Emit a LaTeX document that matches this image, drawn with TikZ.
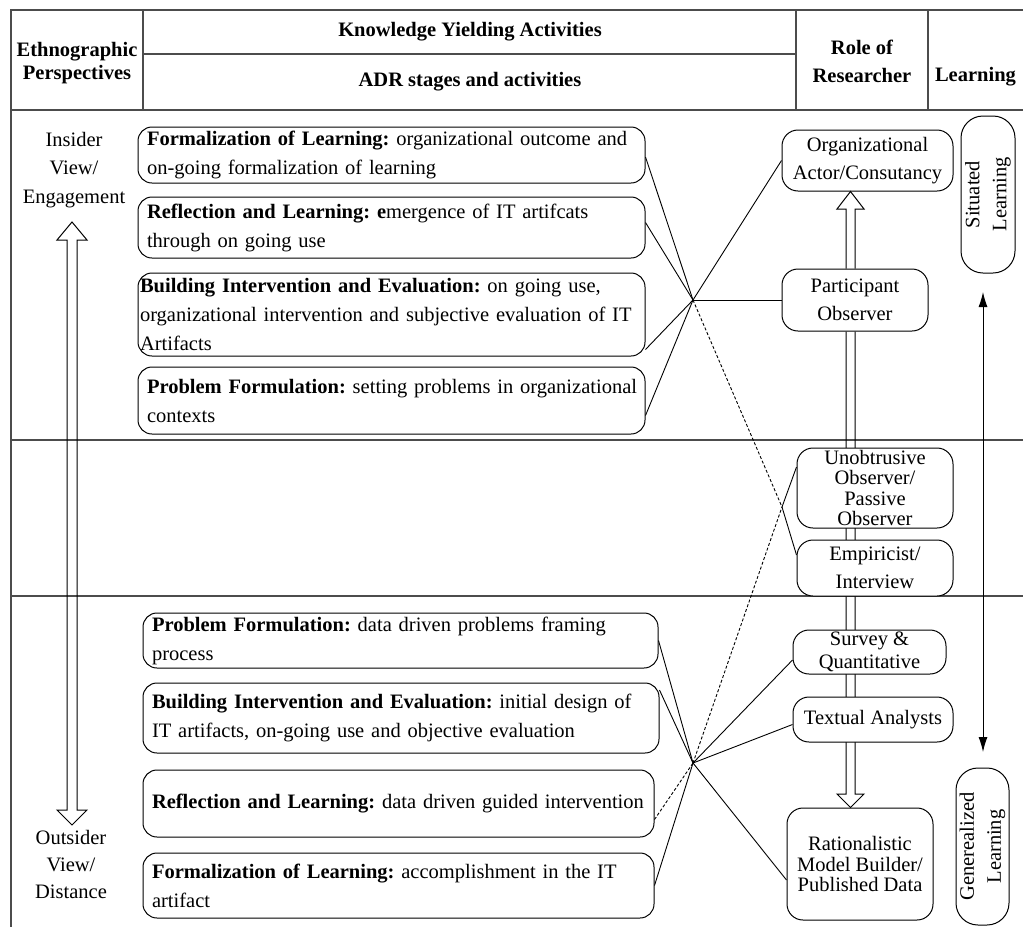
\documentclass[tikz,border=0pt]{standalone}
\usepackage{fontspec}
\setmainfont{Liberation Serif}
\usetikzlibrary{arrows.meta,calc}
\frenchspacing
\hyphenpenalty=10000
\exhyphenpenalty=10000

\begin{document}
\begin{tikzpicture}[x=1pt,y=-1pt,
  frame/.style={line width=1.6pt, draw=black!70},
  head/.style={font=\bfseries\fontsize{20.5}{28}\selectfont, align=center, inner sep=0pt},
  side/.style={font=\fontsize{20.5}{28.5}\selectfont, align=center, inner sep=0pt},
  stagebox/.style={draw, line width=1pt, rounded corners=14pt, fill=white,
    inner ysep=0pt, inner xsep=9pt, align=left,
    font=\fontsize{20.5}{29}\selectfont},
  rolebox/.style={draw, line width=1pt, rounded corners=16pt, fill=white,
    inner sep=0pt, align=center, font=\fontsize{20.5}{28}\selectfont},
  learnbox/.style={draw, line width=1pt, rounded corners=22pt, fill=white,
    inner sep=0pt, align=center, rotate=90, font=\fontsize{20.5}{27}\selectfont},
  hollow/.style={draw, line width=1pt, line join=miter},
  link/.style={draw, line width=0.9pt},
  dashlink/.style={draw, line width=0.9pt, dash pattern=on 3pt off 2pt},
  bothways/.style={draw, line width=1pt, {Latex[length=15pt,width=9pt]}-{Latex[length=15pt,width=9pt]}}
]
\useasboundingbox (0,0) rectangle (1023,927);

% table frame and header rules
\draw[frame] (1023,10) -- (11,10) -- (11,927);
\draw[frame] (11,110) -- (1023,110);
\draw[frame] (143,10) -- (143,110);
\draw[frame] (796,10) -- (796,110);
\draw[frame] (928,10) -- (928,110);
\draw[frame] (143,54) -- (796,54);
\draw[frame] (11,440) -- (1023,440);
\draw[frame] (11,596) -- (1023,596);

% header labels
\node[head] (hEth) at (77,63) {Ethnographic\\[-5pt]Perspectives};
\node[head] (hKya) at (470,32) {Knowledge Yielding Activities};
\node[head] (hAdr) at (470,82) {ADR stages and activities};
\node[head] (hRole) at (862,61) {Role of\\Researcher};
\node[head] (hLearn) at (975.5,77) {Learning};

% perspective labels and the insider/outsider double arrow
\node[side] (ins) at (74,170) {Insider\\View/\\Engagement};
\node[side, font=\fontsize{20.5}{27}\selectfont] (outs) at (71,864) {Outsider\\View/\\Distance};
\draw[hollow] (67,240) -- (57,240) -- (72,222) -- (87,240) -- (77,240)
  -- (77,810) -- (87,810) -- (72,825) -- (57,810) -- (67,810) -- cycle;

% role boxes are placed first so the hollow arrows can refer to them
\node[rolebox, minimum width=171pt, minimum height=61pt] (org) at (867.5,160.5)
  {Organizational\\Actor/Consutancy};
\node[rolebox, minimum width=146pt, minimum height=62pt] (part) at (855,300)
  {Participant\\Observer};
\node[rolebox, minimum width=146pt, minimum height=112pt,
  font=\fontsize{20.5}{20.5}\selectfont] (rat) at (860,864)
  {Rationalistic\\Model Builder/\\Published Data};

% hollow arrows of the researcher role scale
\coordinate (vl) at (846,0);
\coordinate (vr) at (855,0);
\coordinate (vm) at (850.5,0);
\draw[hollow] (vl |- part.north) -- (846,209) -- (837,209) -- (vm |- org.south)
  -- (864,209) -- (855,209) -- (vr |- part.north);
\draw[hollow] (vl |- part.south) -- (846,794) -- (837,794) -- (vm |- rat.north)
  -- (864,794) -- (855,794) -- (vr |- part.south);

\node[rolebox, minimum width=156pt, minimum height=80pt,
  font=\fontsize{20.5}{20.5}\selectfont] (unob) at (875,488)
  {Unobtrusive\\Observer/\\Passive\\Observer};
\node[rolebox, minimum width=156pt, minimum height=56pt] (emp) at (875,568)
  {Empiricist/\\Interview};
\node[rolebox, minimum width=153pt, minimum height=44pt,
  font=\fontsize{20.5}{23}\selectfont] (survey) at (869.5,652)
  {Survey \&\\Quantitative};
\node[rolebox, minimum width=160pt, minimum height=45pt] (textual) at (873,719.5)
  {Textual Analysts};

% learning boxes
\node[learnbox, minimum width=157pt, minimum height=54pt] (sit) at (988,194.5)
  {Situated\\Learning};
\node[learnbox, minimum width=157pt, minimum height=53pt] (gen) at (982.5,846.5)
  {Generealized\\Learning};
\coordinate (la) at (983,292);
\coordinate (lb) at (983,752);
\draw[bothways] (la) -- (lb);

% ADR stages, insider part
\node[stagebox, text width=489pt, minimum height=56pt] (f1) at (391.5,155)
  {\mbox{\textbf{Formalization of Learning:} organizational outcome and}\\
   on-going formalization of learning};
\node[stagebox, text width=489pt, minimum height=61pt] (r1) at (391.5,227.5)
  {\mbox{\textbf{Reflection and Learning: e}mergence of IT artifcats}\\
   through on going use};
\node[stagebox, inner xsep=2pt, text width=503pt, minimum height=83pt] (b1) at (391.5,314.5)
  {\mbox{\textbf{Building Intervention and Evaluation:} on going use,}\\
   \mbox{organizational intervention and subjective evaluation of IT}\\
   Artifacts};
\node[stagebox, text width=489pt, minimum height=67pt] (p1) at (391.5,400.5)
  {\mbox{\textbf{Problem Formulation:} setting problems in organizational}\\
   contexts};

% ADR stages, outsider part
\node[stagebox, text width=497pt, minimum height=55pt] (p2) at (400.5,640.5)
  {\mbox{\textbf{Problem Formulation:} data driven problems framing}\\
   process};
\node[stagebox, text width=498pt, minimum height=70pt] (b2) at (401,718)
  {\mbox{\textbf{Building Intervention and Evaluation:} initial design of}\\
   \mbox{IT artifacts, on-going use and objective evaluation}};
\node[stagebox, text width=493pt, minimum height=67pt] (r2) at (398.5,803.5)
  {\mbox{\textbf{Reflection and Learning:} data driven guided intervention}};
\node[stagebox, text width=493pt, minimum height=65pt] (f2) at (398.5,885.5)
  {\mbox{\textbf{Formalization of Learning:} accomplishment in the IT}\\
   artifact};

% crossing points of the mapping lines
\coordinate (xa) at (693,300);
\coordinate (xb) at (782,507);
\coordinate (xc) at (693,763);

% insider stages to researcher roles
\draw[link] ([yshift=-2pt]f1.east) -- (xa);
\draw[link] ([yshift=5pt]r1.east) -- (xa);
\draw[link] ([yshift=-35pt]b1.east) -- (xa);
\draw[link] ([yshift=-15pt]p1.east) -- (xa);
\draw[link] (xa) -- (org.west);
\draw[link] (xa) -- (part.west);
\draw[dashlink] (xa) -- (xb);
\draw[link] (xb) -- ([yshift=13pt]emp.west);

% outsider stages to researcher roles
\draw[link] (p2.east) -- (xc);
\draw[link] ([yshift=28pt]b2.east) -- (xc);
\draw[dashlink] ([yshift=-16pt]r2.east) -- (xc);
\draw[link] (f2.east) -- (xc);
\draw[dashlink] (xc) -- (xb);
\draw[link] (xb) -- ([yshift=21pt]unob.west);
\draw[link] (xc) -- ([yshift=-8pt]survey.west);
\draw[link] (xc) -- ([yshift=-5pt]textual.west);
\draw[link] (xc) -- ([yshift=-16pt]rat.west);
\end{tikzpicture}
\end{document}
